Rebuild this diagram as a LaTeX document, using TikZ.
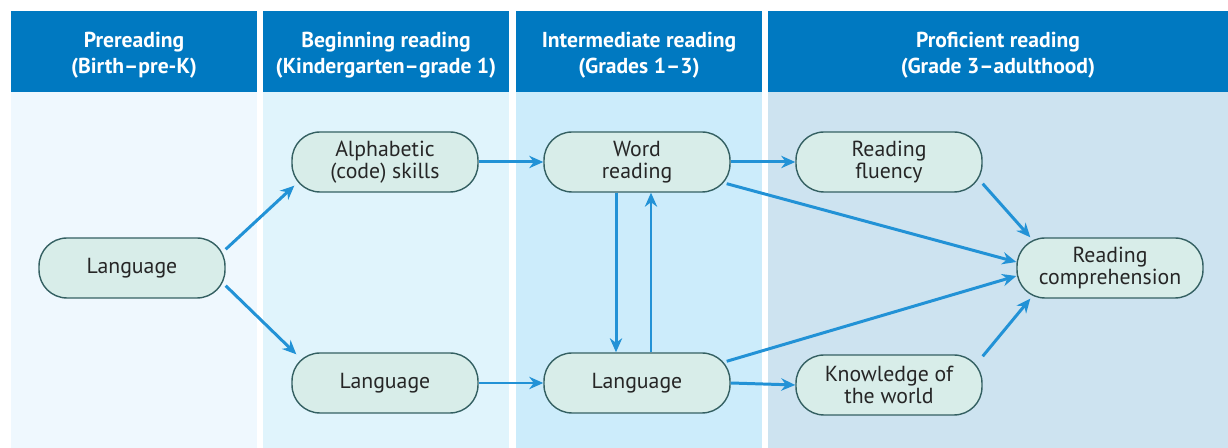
\documentclass[tikz,border=0pt]{standalone}
\usepackage{fontspec}
\setmainfont{PT Sans}
\usetikzlibrary{positioning,arrows.meta}
\definecolor{headblue}{RGB}{0,121,193}
\definecolor{stageone}{RGB}{239,248,254}
\definecolor{stagetwo}{RGB}{224,244,252}
\definecolor{stagethree}{RGB}{204,236,251}
\definecolor{stagefour}{RGB}{205,227,240}
\definecolor{skillfill}{RGB}{216,237,233}
\definecolor{skilldraw}{RGB}{52,96,98}
\definecolor{linkblue}{RGB}{34,146,214}

\begin{document}
\begin{tikzpicture}[
  x=0.02cm, y=-0.02cm,
  every node/.style={font=\fontsize{12.4}{12.8}\selectfont},
  header/.style={text=white, align=center,
    font=\fontsize{12.3}{14.8}\selectfont\bfseries},
  skill/.style={draw=skilldraw, fill=skillfill, text=black!85,
    rounded corners=0.56cm, align=center, line width=0.8pt,
    minimum width=3.72cm, minimum height=1.2cm},
  arr/.style={-{Stealth[length=8pt,width=7pt]}, line width=1.7pt, draw=linkblue},
]
\useasboundingbox (0,0) rectangle (1228,448);

% stage columns
\fill[stageone]   (11,92)  rectangle (257,448);
\fill[stagetwo]   (263,92) rectangle (509,448);
\fill[stagethree] (516,92) rectangle (762,448);
\fill[stagefour]  (768,92) rectangle (1228,448);
\fill[headblue]   (11,11)  rectangle (257,92);
\fill[headblue]   (263,11) rectangle (509,92);
\fill[headblue]   (516,11) rectangle (762,92);
\fill[headblue]   (768,11) rectangle (1228,92);

\node[header] at (134,55)  (prereading)   {Prereading\\(Birth--pre-K)};
\node[header] at (386,55)  (beginning)    {Beginning reading\\(Kindergarten--grade 1)};
\node[header] at (639,55)  (intermediate) {Intermediate reading\\(Grades 1--3)};
\node[header] at (998,55)  (proficient)   {Proficient reading\\(Grade 3--adulthood)};

\node[skill] at (132,268)  (lang)      {Language};
\node[skill] at (385,162)  (alphabet)  {Alphabetic\\(code) skills};
\node[skill] at (385,383)  (langtwo)   {Language};
\node[skill] at (637,162)  (word)      {Word\\reading};
\node[skill] at (637,383)  (langthree) {Language};
\node[skill] at (889,162)  (fluency)   {Reading\\fluency};
\node[skill] at (889,385)  (knowledge) {Knowledge of\\the world};
\node[skill] at (1110,268) (compreh)   {Reading\\comprehension};

\draw[arr] ([yshift=-0.24cm]lang.north east) -- ([xshift=0.06cm,yshift=0.14cm]alphabet.south west);
\draw[arr] ([yshift=0.26cm]lang.south east)  -- ([xshift=0.1cm,yshift=-0.04cm]langtwo.north west);
\draw[arr] (alphabet.east)  -- (word.west);
\draw[arr] (langtwo.east)   -- (langthree.west);
\draw[arr] (word.east)      -- (fluency.west);
\draw[arr] (langthree.east) -- (knowledge.west);
\draw[arr] ([xshift=-0.42cm]word.south) -- ([xshift=-0.42cm]langthree.north);
\draw[arr] ([xshift=0.28cm]langthree.north) -- ([xshift=0.28cm]word.south);
\draw[arr] ([xshift=-0.08cm,yshift=0.18cm]word.south east)       -- ([yshift=0.12cm]compreh.west);
\draw[arr] ([xshift=-0.08cm,yshift=-0.18cm]langthree.north east) -- ([yshift=-0.16cm]compreh.west);
\draw[arr] ([yshift=0.18cm]fluency.south east)    -- ([xshift=0.28cm]compreh.north west);
\draw[arr] ([yshift=-0.04cm]knowledge.north east) -- ([xshift=0.28cm]compreh.south west);
\end{tikzpicture}
\end{document}
